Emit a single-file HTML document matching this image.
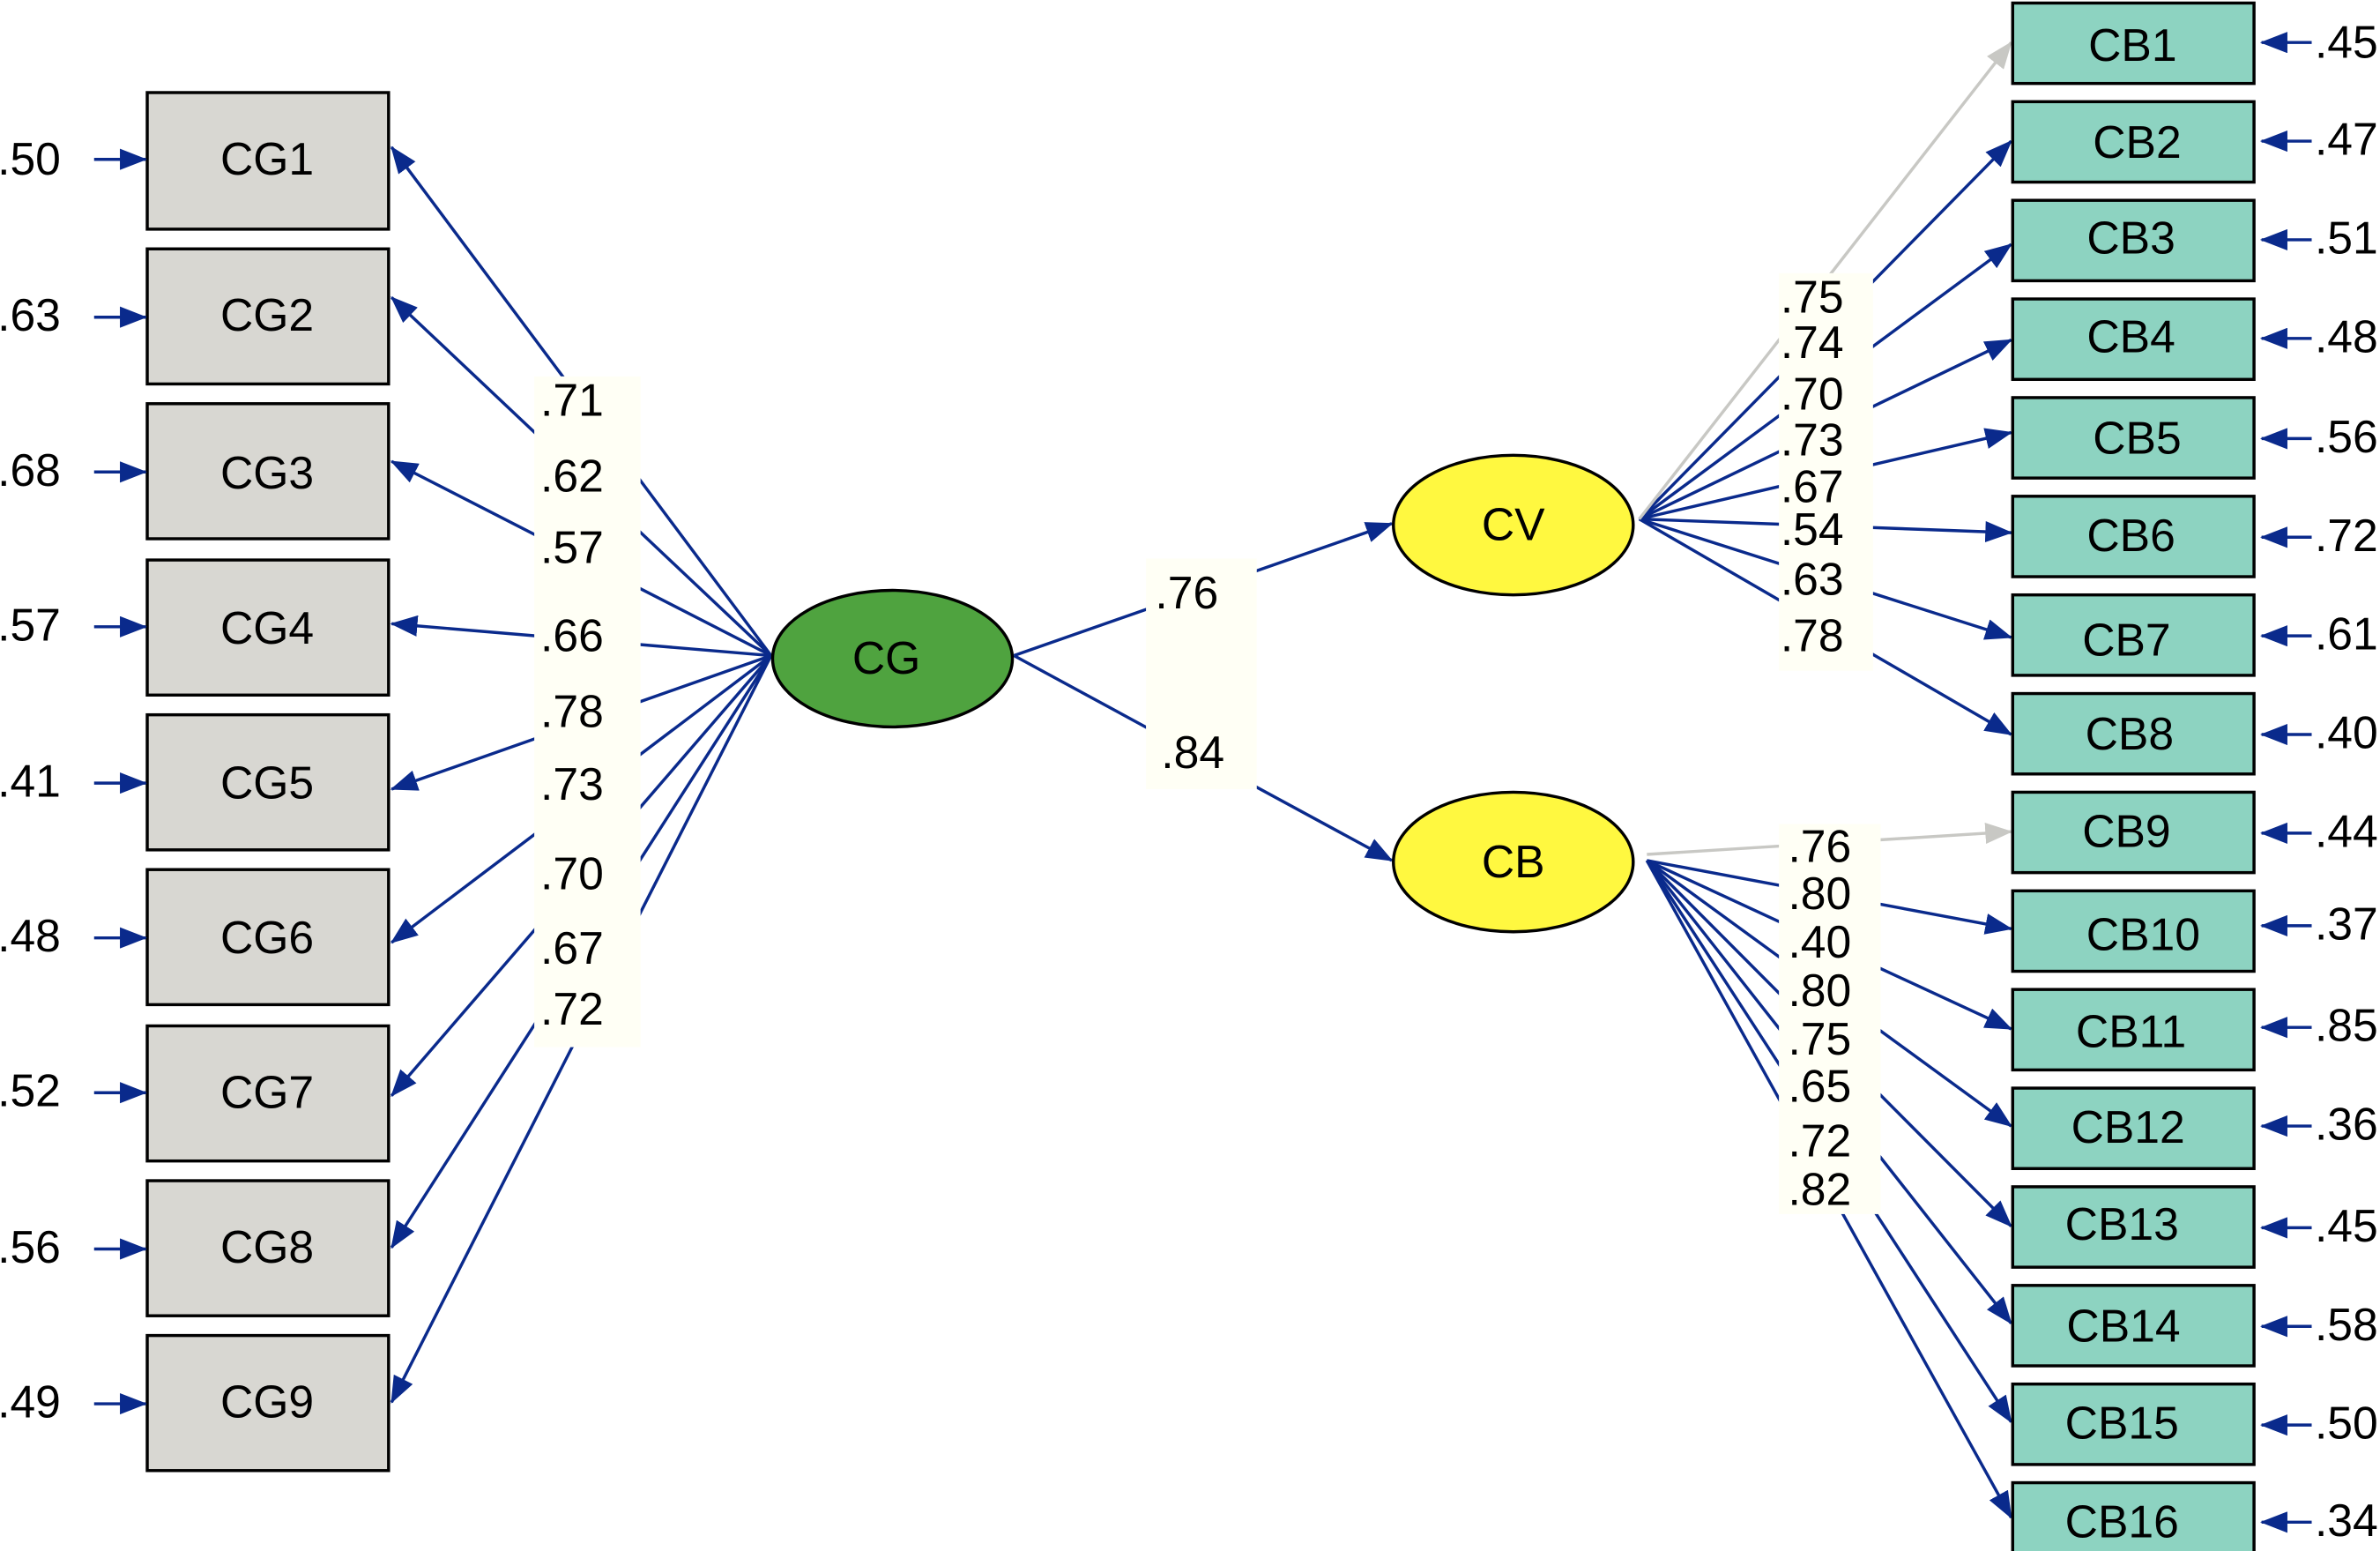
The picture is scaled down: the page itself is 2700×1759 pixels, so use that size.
<!DOCTYPE html>
<html><head><meta charset="utf-8"><style>
html,body{margin:0;padding:0;background:#fff;}
svg{display:block;}
text{font-family:"Liberation Sans",sans-serif;fill:#000;}
</style></head><body>
<svg width="2700" height="1759" viewBox="0 0 1568 1022" preserveAspectRatio="none" xmlns="http://www.w3.org/2000/svg">
<defs>
<marker id="a" markerUnits="userSpaceOnUse" markerWidth="18" markerHeight="14" refX="17" refY="7" orient="auto"><path d="M0,0 L18,7 L0,14 Z" fill="#0a2a8c"/></marker>
<marker id="g" markerUnits="userSpaceOnUse" markerWidth="18" markerHeight="14" refX="17" refY="7" orient="auto"><path d="M0,0 L18,7 L0,14 Z" fill="#c8c8c4"/></marker>
</defs>
<rect width="1568" height="1022" fill="#fff"/>
<g stroke="#0a2a8c" stroke-width="2" fill="none" marker-end="url(#a)">
<line x1="508" y1="432" x2="258" y2="97"/>
<line x1="508" y1="432" x2="258" y2="196"/>
<line x1="508" y1="432" x2="258" y2="304"/>
<line x1="508" y1="432" x2="258" y2="411"/>
<line x1="508" y1="432" x2="258" y2="520"/>
<line x1="508" y1="432" x2="258" y2="621"/>
<line x1="508" y1="432" x2="258" y2="722"/>
<line x1="508" y1="432" x2="258" y2="822"/>
<line x1="508" y1="432" x2="258" y2="924"/>
<line x1="668" y1="432" x2="917" y2="345"/>
<line x1="668" y1="432" x2="917" y2="567"/>
<line x1="1080" y1="342" x2="1325" y2="93"/>
<line x1="1080" y1="342" x2="1325" y2="161"/>
<line x1="1080" y1="342" x2="1325" y2="224"/>
<line x1="1080" y1="342" x2="1325" y2="285"/>
<line x1="1080" y1="342" x2="1325" y2="351"/>
<line x1="1080" y1="342" x2="1325" y2="420"/>
<line x1="1080" y1="342" x2="1325" y2="484"/>
<line x1="1085" y1="567" x2="1325" y2="612"/>
<line x1="1085" y1="567" x2="1325" y2="678"/>
<line x1="1085" y1="567" x2="1325" y2="742"/>
<line x1="1085" y1="567" x2="1325" y2="808"/>
<line x1="1085" y1="567" x2="1325" y2="872"/>
<line x1="1085" y1="567" x2="1325" y2="937"/>
<line x1="1085" y1="567" x2="1325" y2="1000"/>
</g>
<g stroke="#c8c8c4" stroke-width="2" fill="none" marker-end="url(#g)">
<line x1="1080" y1="342" x2="1325" y2="28"/>
<line x1="1085" y1="563" x2="1325" y2="548"/>
</g>
<g fill="#fffff5">
<rect x="352" y="248" width="70" height="442"/>
<rect x="755" y="368" width="73" height="152"/>
<rect x="1172" y="180" width="62" height="262"/>
<rect x="1172" y="543" width="67" height="257"/>
</g>
<g fill="#d8d7d2" stroke="#000" stroke-width="2">
<rect x="97" y="61" width="159" height="90"/>
<rect x="97" y="164" width="159" height="89"/>
<rect x="97" y="266" width="159" height="89"/>
<rect x="97" y="369" width="159" height="89"/>
<rect x="97" y="471" width="159" height="89"/>
<rect x="97" y="573" width="159" height="89"/>
<rect x="97" y="676" width="159" height="89"/>
<rect x="97" y="778" width="159" height="89"/>
<rect x="97" y="880" width="159" height="89"/>
</g>
<g font-size="30" text-anchor="middle">
<text x="176" y="115">CG1</text><text x="176" y="218">CG2</text><text x="176" y="322">CG3</text>
<text x="176" y="424">CG4</text><text x="176" y="526">CG5</text><text x="176" y="628">CG6</text>
<text x="176" y="730">CG7</text><text x="176" y="832">CG8</text><text x="176" y="934">CG9</text>
</g>
<g stroke="#0a2a8c" stroke-width="2" marker-end="url(#a)">
<line x1="62" y1="105" x2="96" y2="105"/><line x1="62" y1="209" x2="96" y2="209"/>
<line x1="62" y1="311" x2="96" y2="311"/><line x1="62" y1="413" x2="96" y2="413"/>
<line x1="62" y1="516" x2="96" y2="516"/><line x1="62" y1="618" x2="96" y2="618"/>
<line x1="62" y1="720" x2="96" y2="720"/><line x1="62" y1="823" x2="96" y2="823"/>
<line x1="62" y1="925" x2="96" y2="925"/>
</g>
<g font-size="30" text-anchor="end">
<text x="40" y="115">.50</text><text x="40" y="218">.63</text><text x="40" y="320">.68</text>
<text x="40" y="422">.57</text><text x="40" y="525">.41</text><text x="40" y="627">.48</text>
<text x="40" y="729">.52</text><text x="40" y="832">.56</text><text x="40" y="934">.49</text>
</g>
<ellipse cx="588" cy="434" rx="79" ry="45" fill="#4fa33f" stroke="#000" stroke-width="2"/>
<text x="584" y="444" font-size="30" text-anchor="middle">CG</text>
<ellipse cx="997" cy="346" rx="79" ry="46" fill="#fff840" stroke="#000" stroke-width="2"/>
<text x="997" y="356" font-size="30" text-anchor="middle">CV</text>
<ellipse cx="997" cy="568" rx="79" ry="46" fill="#fff840" stroke="#000" stroke-width="2"/>
<text x="997" y="578" font-size="30" text-anchor="middle">CB</text>
<g fill="#8dd3c1" stroke="#000" stroke-width="2">
<rect x="1326" y="2" width="159" height="53"/>
<rect x="1326" y="67" width="159" height="53"/>
<rect x="1326" y="132" width="159" height="53"/>
<rect x="1326" y="197" width="159" height="53"/>
<rect x="1326" y="262" width="159" height="53"/>
<rect x="1326" y="327" width="159" height="53"/>
<rect x="1326" y="392" width="159" height="53"/>
<rect x="1326" y="457" width="159" height="53"/>
<rect x="1326" y="522" width="159" height="53"/>
<rect x="1326" y="587" width="159" height="53"/>
<rect x="1326" y="652" width="159" height="53"/>
<rect x="1326" y="717" width="159" height="53"/>
<rect x="1326" y="782" width="159" height="53"/>
<rect x="1326" y="847" width="159" height="53"/>
<rect x="1326" y="912" width="159" height="53"/>
<rect x="1326" y="977" width="159" height="53"/>
</g>
<g font-size="30" text-anchor="middle">
<text x="1405" y="40">CB1</text><text x="1408" y="104">CB2</text><text x="1404" y="167">CB3</text>
<text x="1404" y="232">CB4</text><text x="1408" y="299">CB5</text><text x="1404" y="363">CB6</text>
<text x="1401" y="432">CB7</text><text x="1403" y="494">CB8</text><text x="1401" y="558">CB9</text>
<text x="1412" y="626">CB10</text><text x="1404" y="690">CB11</text><text x="1402" y="753">CB12</text>
<text x="1398" y="817">CB13</text><text x="1399" y="884">CB14</text><text x="1398" y="948">CB15</text>
<text x="1398" y="1013">CB16</text>
</g>
<g stroke="#0a2a8c" stroke-width="2" marker-end="url(#a)">
<line x1="1523" y1="28" x2="1490" y2="28"/><line x1="1523" y1="93" x2="1490" y2="93"/>
<line x1="1523" y1="158" x2="1490" y2="158"/><line x1="1523" y1="223" x2="1490" y2="223"/>
<line x1="1523" y1="289" x2="1490" y2="289"/><line x1="1523" y1="354" x2="1490" y2="354"/>
<line x1="1523" y1="419" x2="1490" y2="419"/><line x1="1523" y1="484" x2="1490" y2="484"/>
<line x1="1523" y1="549" x2="1490" y2="549"/><line x1="1523" y1="610" x2="1490" y2="610"/>
<line x1="1523" y1="677" x2="1490" y2="677"/><line x1="1523" y1="742" x2="1490" y2="742"/>
<line x1="1523" y1="809" x2="1490" y2="809"/><line x1="1523" y1="874" x2="1490" y2="874"/>
<line x1="1523" y1="939" x2="1490" y2="939"/><line x1="1523" y1="1003" x2="1490" y2="1003"/>
</g>
<g font-size="30">
<text x="1525" y="38">.45</text><text x="1525" y="102">.47</text><text x="1525" y="167">.51</text>
<text x="1525" y="232">.48</text><text x="1525" y="298">.56</text><text x="1525" y="363">.72</text>
<text x="1525" y="428">.61</text><text x="1525" y="493">.40</text><text x="1525" y="558">.44</text>
<text x="1525" y="619">.37</text><text x="1525" y="686">.85</text><text x="1525" y="751">.36</text>
<text x="1525" y="818">.45</text><text x="1525" y="883">.58</text><text x="1525" y="948">.50</text>
<text x="1525" y="1012">.34</text>
</g>
<g font-size="30">
<text x="356" y="274">.71</text><text x="356" y="324">.62</text><text x="356" y="371">.57</text>
<text x="356" y="429">.66</text><text x="356" y="479">.78</text><text x="356" y="527">.73</text>
<text x="356" y="586">.70</text><text x="356" y="635">.67</text><text x="356" y="675">.72</text>
<text x="761" y="401">.76</text><text x="765" y="506">.84</text>
<text x="1173" y="206">.75</text><text x="1173" y="236">.74</text><text x="1173" y="270">.70</text>
<text x="1173" y="300">.73</text><text x="1173" y="331">.67</text><text x="1173" y="359">.54</text>
<text x="1173" y="392">.63</text><text x="1173" y="429">.78</text>
<text x="1178" y="568">.76</text><text x="1178" y="599">.80</text><text x="1178" y="631">.40</text>
<text x="1178" y="663">.80</text><text x="1178" y="695">.75</text><text x="1178" y="726">.65</text>
<text x="1178" y="762">.72</text><text x="1178" y="794">.82</text>
</g>
</svg>
</body></html>
